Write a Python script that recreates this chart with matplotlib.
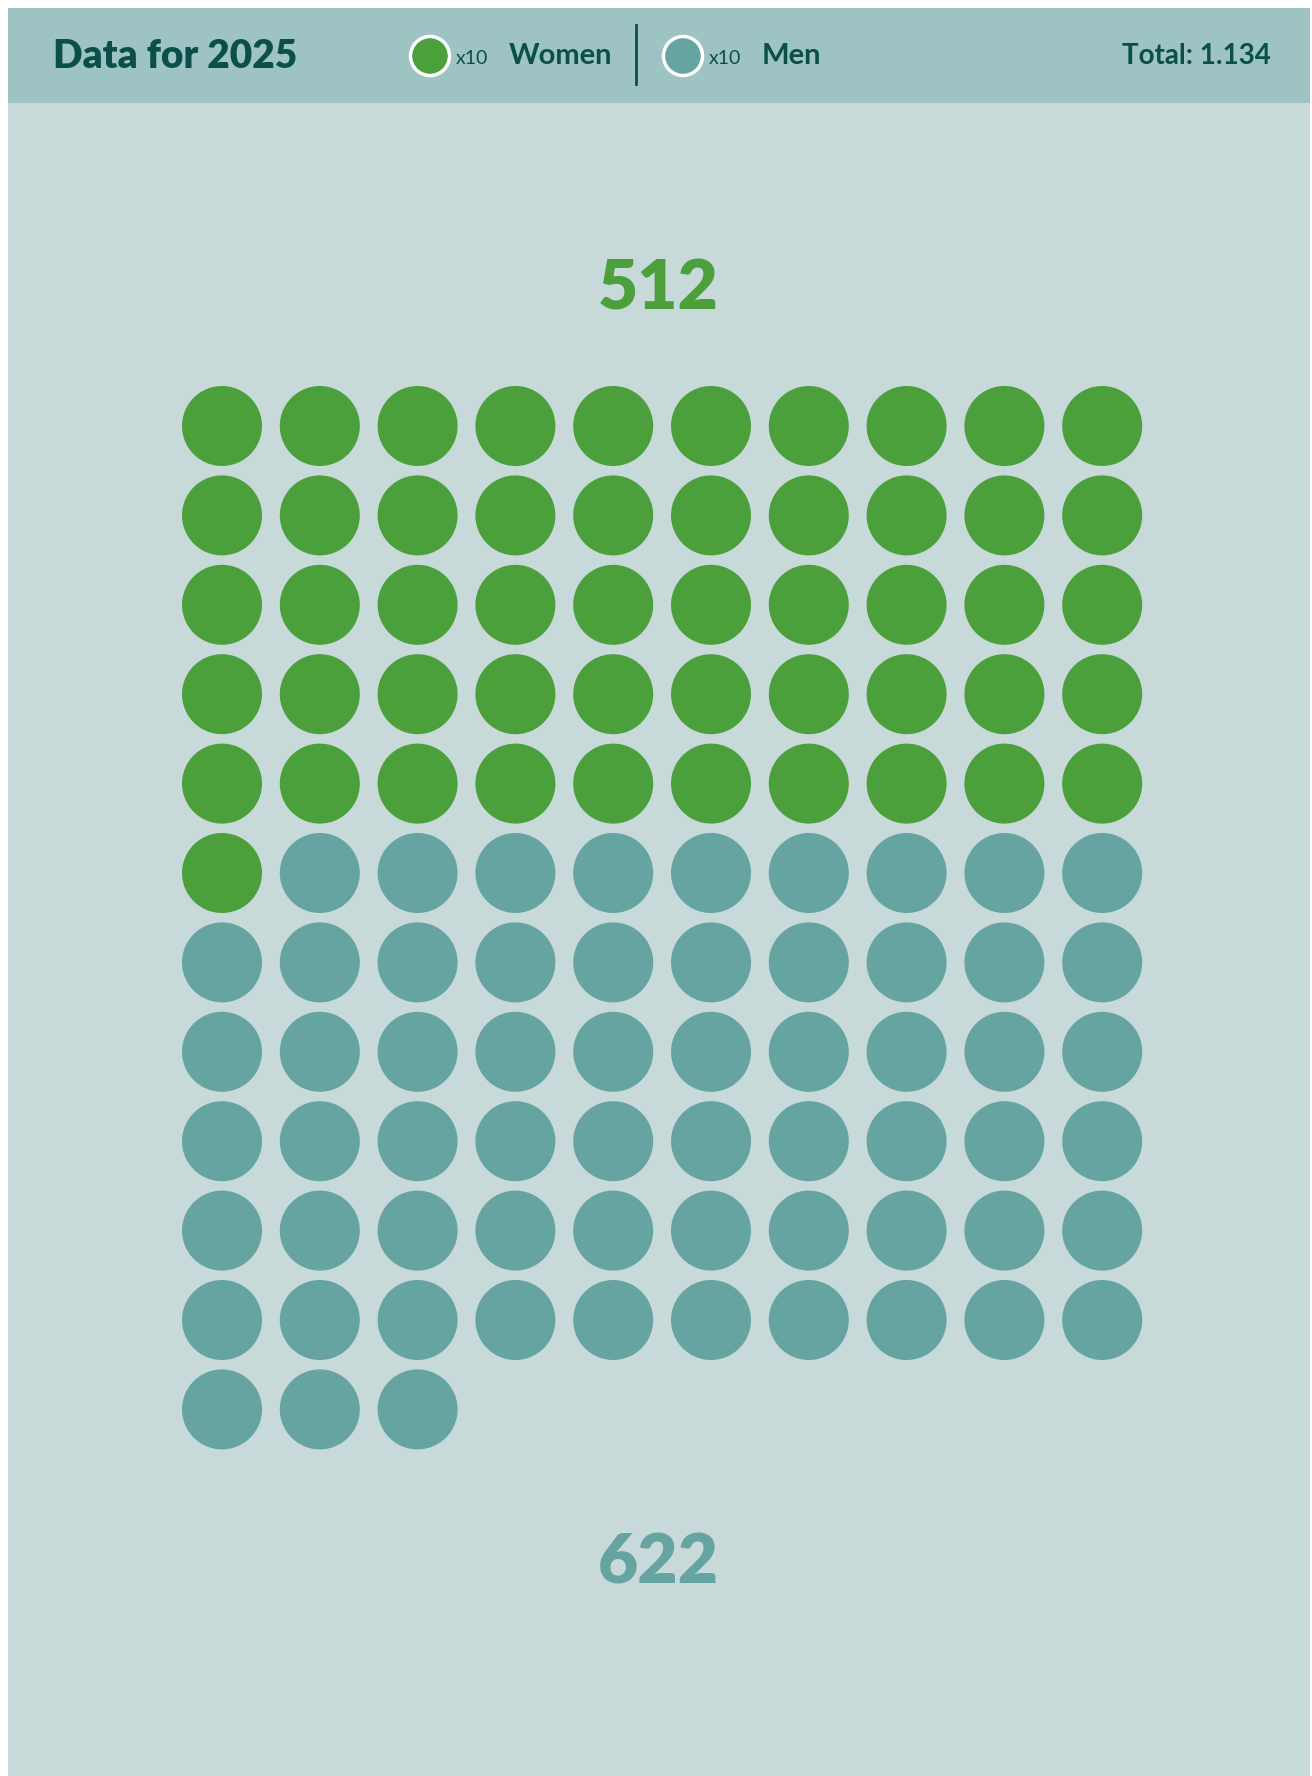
import matplotlib
matplotlib.use("Agg")
import matplotlib.pyplot as plt
from matplotlib.patches import Circle, Rectangle

# Data
year = 2025
categories = ["Women", "Men"]
values = [512, 622]
unit = 10
colors = ["#4ca03c", "#65a4a1"]

total = sum(values)
dots = [round(v / unit) for v in values]

# Style
BG = "#c8d9da"
BANNER = "#9dc3c3"
DARK = "#0b4f4a"
FONT = "Lato"

W, H = 1312, 1776
fig = plt.figure(figsize=(W / 100, H / 100), dpi=100)
fig.patch.set_facecolor("white")
ax = fig.add_axes([0, 0, 1, 1])
ax.set_xlim(0, W)
ax.set_ylim(H, 0)
ax.axis("off")

# -----------------------------
# Background + banner
# -----------------------------
ax.add_patch(Rectangle((8, 8), W - 10, H - 8, facecolor=BG, edgecolor="none"))
ax.add_patch(Rectangle((8, 8), W - 10, 95, facecolor=BANNER, edgecolor="none"))

ax.text(53, 56, f"Data for {year}", fontsize=28, fontweight="heavy", color=DARK,
        family=FONT, ha="left", va="center")

legend_x = [430, 683]
for i, cat in enumerate(categories):
    cx = legend_x[i]
    ax.add_patch(Circle((cx, 56), 19.5, facecolor=colors[i], edgecolor="white", linewidth=2.5))
    ax.text(cx + 26, 58, f"x{unit}", fontsize=14, color=DARK, family=FONT,
            ha="left", va="center")
    ax.text(cx + 79, 56, cat, fontsize=21, fontweight="bold", color=DARK, family=FONT,
            ha="left", va="center")

ax.plot([636, 636], [25, 84], color=DARK, linewidth=2)

ax.text(1271, 56, f"Total: {total:,}".replace(",", "."), fontsize=20, fontweight="bold",
        color=DARK, family=FONT, ha="right", va="center")

# -----------------------------
# Dot grid
# -----------------------------
ncols = 10
x0, dx = 222, 97.8
y0, dy = 426, 89.4
r = 40

k = 0
for i, n in enumerate(dots):
    for _ in range(n):
        row, col = divmod(k, ncols)
        ax.add_patch(Circle((x0 + col * dx, y0 + row * dy), r,
                            facecolor=colors[i], edgecolor="none"))
        k += 1

# Big numbers
ax.text(658, 290, str(values[0]), fontsize=50, fontweight="heavy", color=colors[0],
        family=FONT, ha="center", va="center")
ax.text(658, 1564, str(values[1]), fontsize=50, fontweight="heavy", color=colors[1],
        family=FONT, ha="center", va="center")

plt.savefig("out.png", dpi=100, facecolor=fig.get_facecolor())
plt.close()
